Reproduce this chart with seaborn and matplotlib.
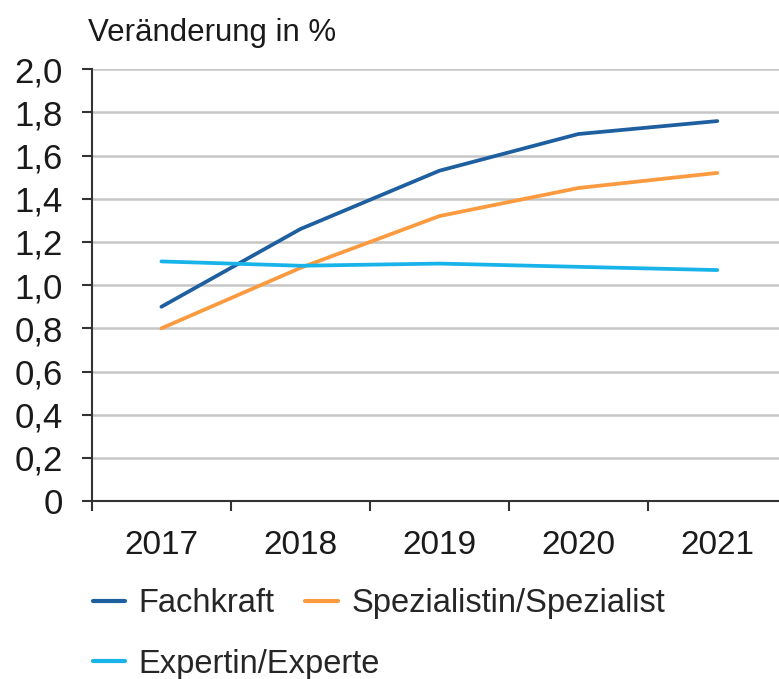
import pandas as pd
import matplotlib.pyplot as plt
import seaborn as sns
import numpy as np
from matplotlib.lines import Line2D

# Data
years = ['2017', '2018', '2019', '2020', '2021']
fachkraft = [0.90, 1.26, 1.53, 1.70, 1.76]
spezialist = [0.80, 1.08, 1.32, 1.45, 1.52]
experte = [1.11, 1.09, 1.10, 1.085, 1.07]
names = ['Fachkraft', 'Spezialistin/Spezialist', 'Expertin/Experte']
colors = {'Fachkraft': '#1d5f9f', 'Spezialistin/Spezialist': '#fb9a3f',
          'Expertin/Experte': '#17b3e9'}

df = pd.DataFrame({'Jahr': years * 3,
                   'Wert': fachkraft + spezialist + experte,
                   'Gruppe': [n for n in names for _ in years]})

sns.set_style('white')
plt.rcParams['font.family'] = ['Liberation Sans', 'DejaVu Sans']

fig = plt.figure(figsize=(7.79, 6.79), dpi=100)
ax = fig.add_axes([0.118, 0.262, 0.892, 0.636])

sns.lineplot(data=df, x='Jahr', y='Wert', hue='Gruppe', palette=colors,
             linewidth=2.7, ax=ax, legend=False)

ax.set_xlim(-0.5, 4.5)
ax.set_ylim(0, 2.0)
yt = np.arange(0, 2.01, 0.2)
ax.set_yticks(yt)
ax.set_yticklabels(['0' if v == 0 else f'{v:.1f}'.replace('.', ',') for v in yt])
ax.yaxis.grid(True, color='#c6c6c6', linewidth=1.8)
ax.set_axisbelow(True)

ax.set_xticks(range(len(years)))
ax.set_xticklabels(years)
ax.set_xticks(np.arange(-0.5, 4.6, 1), minor=True)
ax.tick_params(axis='x', which='major', length=0, pad=21, labelsize=24, colors='#1a1a1a')
ax.tick_params(axis='x', which='minor', length=7, width=1.5, color='#333333', direction='out')
ax.tick_params(axis='y', length=7, width=1.5, color='#333333', direction='out',
               labelsize=25, pad=14, labelcolor='#1a1a1a')
ax.tick_params(axis='both', which='both', bottom=True, left=True)

for s in ['top', 'right']:
    ax.spines[s].set_visible(False)
for s in ['left', 'bottom']:
    ax.spines[s].set_color('#333333')
    ax.spines[s].set_linewidth(1.5)

ax.set_xlabel('')
ax.set_ylabel('')

fig.text(0.113, 0.951, 'Veränderung in %', fontsize=22.5, color='#1a1a1a', va='center')

# legend laid out as in the original: two entries then one
h = [Line2D([], [], color=colors[n], linewidth=3) for n in names]
leg_kw = dict(loc='center left', frameon=False, fontsize=23.5, handlelength=1.0,
              handletextpad=0.4, borderpad=0, borderaxespad=0)
leg1 = fig.legend(h[:2], names[:2], bbox_to_anchor=(0.119, 0.111), ncol=2,
                  columnspacing=0.95, **leg_kw)
leg2 = fig.legend(h[2:], names[2:], bbox_to_anchor=(0.119, 0.022), **leg_kw)

plt.savefig('out.png', dpi=100)
